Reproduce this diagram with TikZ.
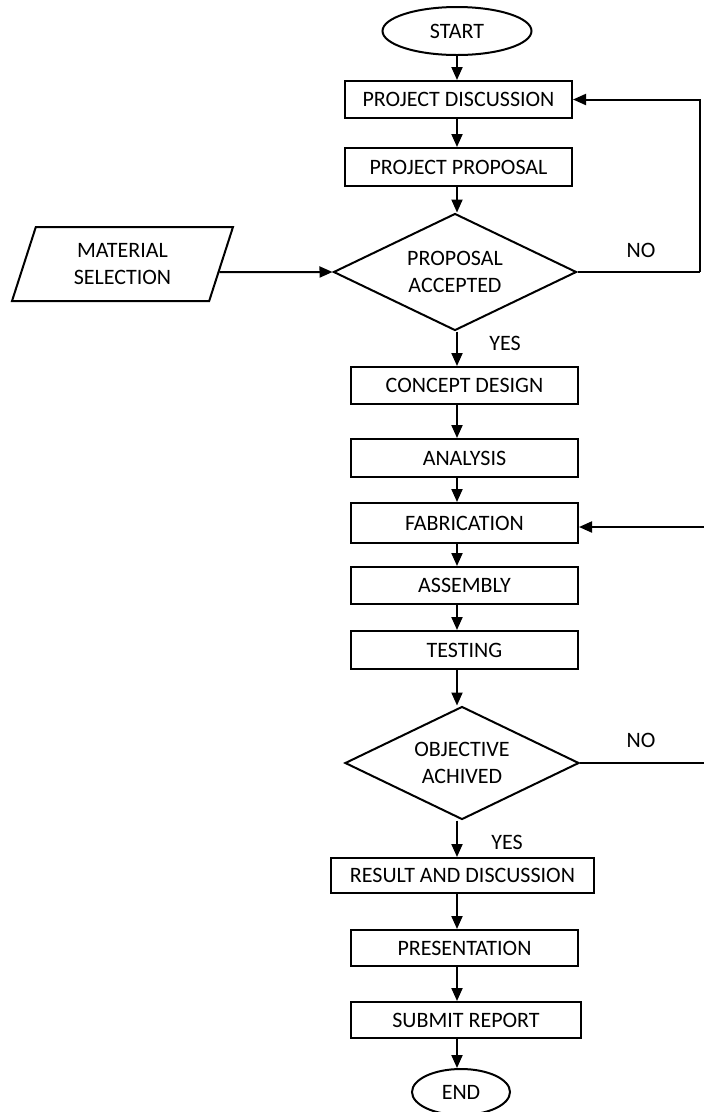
\documentclass[tikz,border=0pt]{standalone}
\usepackage{fontspec}
\setmainfont{Carlito}
\usetikzlibrary{shapes.geometric,arrows.meta,calc}
\begin{document}
\begin{tikzpicture}[x=1pt,y=-1pt,
  every node/.style={font=\fontsize{22}{27}\selectfont},
  proc/.style={draw,line width=2pt,rectangle,inner sep=0pt,minimum width=227pt,minimum height=37pt},
  term/.style={draw,line width=2pt,ellipse,inner sep=0pt},
  decis/.style={draw,line width=2pt,diamond,aspect=2.07,inner sep=0pt,align=center},
  io/.style={draw,line width=2pt,trapezium,trapezium left angle=60,trapezium right angle=120,inner sep=0pt,align=center,minimum width=221pt,minimum height=74pt,trapezium stretches body},
  arr/.style={line width=2pt,-{Triangle[length=13pt,width=11pt]}},
  ln/.style={line width=2pt},
  lbl/.style={inner sep=0pt}]
\useasboundingbox (0,0) rectangle (704,1112);
\node[term,minimum width=149pt,minimum height=48pt] (start) at (457,31) {START};
\node[proc] (pd) at (458.5,99.5) {PROJECT DISCUSSION};
\node[proc,minimum height=38pt] (pp) at (458.5,167) {PROJECT PROPOSAL};
\node[decis,minimum width=243pt,minimum height=117pt] (d1) at (455,272) {PROPOSAL\\ACCEPTED};
\node[io] (mat) at (122.5,264) {MATERIAL\\SELECTION};
\node[proc] (cd) at (464.5,385.5) {CONCEPT DESIGN};
\node[proc,minimum height=38pt] (an) at (464.5,458) {ANALYSIS};
\node[proc,minimum height=40pt] (fab) at (464.5,523) {FABRICATION};
\node[proc] (as) at (464.5,585.5) {ASSEMBLY};
\node[proc,minimum height=38pt] (te) at (464.5,650) {TESTING};
\node[decis,minimum width=234pt,minimum height=113pt] (d2) at (462,763) {OBJECTIVE\\ACHIVED};
\node[proc,minimum width=263pt,minimum height=35pt] (rd) at (462.5,875.5) {RESULT AND DISCUSSION};
\node[proc,minimum height=36pt] (pr) at (464.5,948) {PRESENTATION};
\node[proc,minimum width=230pt,minimum height=36pt] (sr) at (466,1020) {SUBMIT REPORT};
\node[term,minimum width=98pt,minimum height=46pt] (end) at (461,1092) {END};

\node[lbl] (no1) at (641,250) {NO};
\node[lbl] (yes1) at (505,343) {YES};
\node[lbl] (no2) at (641,740) {NO};
\node[lbl] (yes2) at (507,842) {YES};

\coordinate (ax) at (457,0);
\coordinate (r1) at (700,272);
\coordinate (fin) at (706,527);
\coordinate (fout) at (706,763);

\draw[arr] (start.south) -- (pd.north -| ax);
\draw[arr] (pd.south -| ax) -- (pp.north -| ax);
\draw[arr] (pp.south -| ax) -- (d1.north -| ax);
\path (mat.bottom right corner) -- (mat.top right corner) coordinate[pos=0.392] (m1);
\draw[arr] (m1) -- (d1.west);
\draw[ln] (d1.east) -- (r1);
\draw[arr] (r1) |- (pd.east);
\draw[arr] (d1.south -| ax) -- (cd.north -| ax);
\draw[arr] (cd.south -| ax) -- (an.north -| ax);
\draw[arr] (an.south -| ax) -- (fab.north -| ax);
\draw[arr] (fab.south -| ax) -- (as.north -| ax);
\draw[arr] (as.south -| ax) -- (te.north -| ax);
\draw[arr] (te.south -| ax) -- (d2.north -| ax);
\draw[ln] (d2.east) -- (fout);
\draw[arr] (fin) -- (fin -| fab.east);
\draw[arr] (d2.south -| ax) -- (rd.north -| ax);
\draw[arr] (rd.south -| ax) -- (pr.north -| ax);
\draw[arr] (pr.south -| ax) -- (sr.north -| ax);
\draw[arr] (sr.south -| ax) -- (end.north -| ax);
\end{tikzpicture}
\end{document}
